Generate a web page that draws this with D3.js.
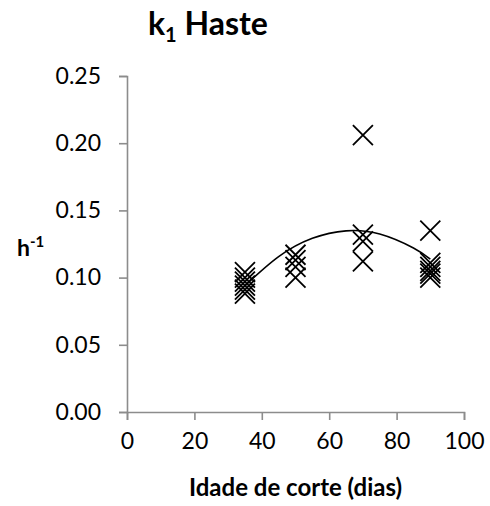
<!DOCTYPE html>
<html>
<head>
<meta charset="utf-8">
<script src="https://cdn.jsdelivr.net/npm/d3@7"></script>
<style>
  body { margin: 0; background: #fff; }
  text { font-family: Lato, "Open Sans", sans-serif; fill: #000; }
</style>
</head>
<body>
<div id="chart"></div>
<script>
// values
let ageDays = [35, 35, 35, 35, 35, 35, 50, 50, 50, 50, 70, 70, 70, 70, 90, 90, 90, 90, 90, 90]
let k1Values = [0.104, 0.100, 0.097, 0.094, 0.091, 0.088,
                0.117, 0.113, 0.108, 0.100,
                0.206, 0.132, 0.127, 0.112,
                0.135, 0.111, 0.108, 0.105, 0.103, 0.100]

// polynomial trend line
let trendX = [35, 45, 55, 65, 75, 85, 90]
let trendY = [0.094, 0.1156, 0.1292, 0.1348, 0.1324, 0.122, 0.1138]

let xTicks = [0, 20, 40, 60, 80, 100]
let yTicks = [0, 0.05, 0.10, 0.15, 0.20, 0.25]

let width = 490, height = 506

let svg = d3.select('#chart')
    .append('svg')
    .attr('width', width)
    .attr('height', height)

let xScale = d3.scaleLinear()
    .domain([0, 100])
    .range([127, 464])

let yScale = d3.scaleLinear()
    .domain([0, 0.25])
    .range([412, 76])

let axisColor = '#8c8c8c'

let xAxis = svg.append('g')
    .attr('transform', 'translate(0,' + yScale(0) + ')')
    .call(d3.axisBottom(xScale).tickValues(xTicks).tickSize(8).tickPadding(13).tickFormat(d3.format('d')))

let yAxis = svg.append('g')
    .attr('transform', 'translate(' + xScale(0) + ',0)')
    .call(d3.axisLeft(yScale).tickValues(yTicks).tickSize(8).tickPadding(18).tickFormat(d3.format('.2f')))

svg.selectAll('.domain, .tick line')
    .attr('stroke', axisColor)
    .attr('stroke-width', 1.6)

svg.selectAll('.tick text')
    .style('font-family', 'Lato, sans-serif')
    .style('font-size', '23px')
    .attr('fill', '#000')

// trend line
let line = d3.line()
    .x((d, i) => xScale(trendX[i]))
    .y(d => yScale(d))
    .curve(d3.curveNatural)

svg.append('path')
    .datum(trendY)
    .attr('d', line)
    .attr('fill', 'none')
    .attr('stroke', '#000')
    .attr('stroke-width', 1.6)

// X markers
let m = 10
let marks = svg.append('g')
    .selectAll('path.mark')
    .data(ageDays)
    .enter()
    .append('path')
    .attr('class', 'mark')
    .attr('d', function (d, i) {
        let cx = xScale(d), cy = yScale(k1Values[i])
        return 'M' + (cx - m) + ',' + (cy - m) + 'L' + (cx + m) + ',' + (cy + m) +
               'M' + (cx - m) + ',' + (cy + m) + 'L' + (cx + m) + ',' + (cy - m)
    })
    .attr('stroke', '#000')
    .attr('stroke-width', 1.8)
    .attr('fill', 'none')

// title
let title = svg.append('text')
    .attr('x', 148)
    .attr('y', 35)
    .style('font-size', '32px')
    .style('font-weight', 'bold')
title.append('tspan').text('k')
title.append('tspan').attr('dy', 7).style('font-size', '20px').text('1')
title.append('tspan').attr('dy', -7).text(' Haste')

// axis titles
svg.append('text')
    .attr('x', xScale(50))
    .attr('y', 496)
    .attr('text-anchor', 'middle')
    .style('font-size', '24px')
    .style('font-weight', 'bold')
    .text('Idade de corte (dias)')

let yTitle = svg.append('text')
    .attr('x', 17)
    .attr('y', 256)
    .style('font-size', '23px')
    .style('font-weight', 'bold')
yTitle.append('tspan').text('h')
yTitle.append('tspan').attr('dy', -9).style('font-size', '15px').text('-1')
</script>
</body>
</html>
